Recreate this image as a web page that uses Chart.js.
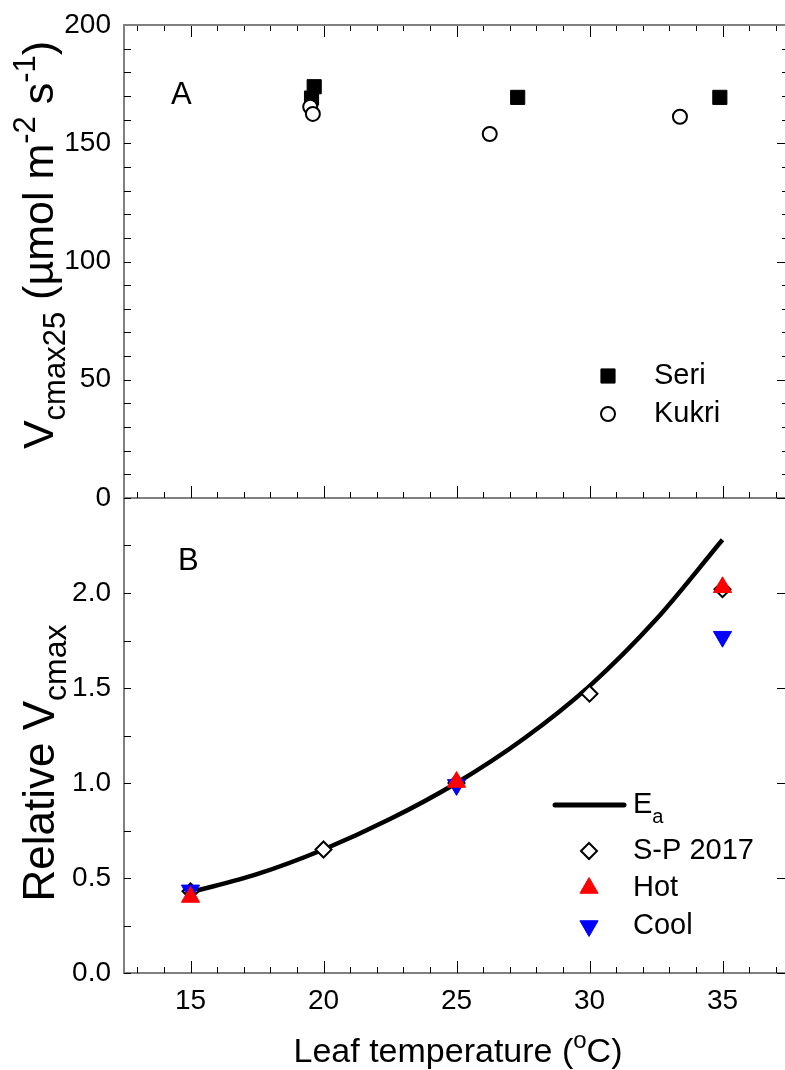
<!DOCTYPE html>
<html lang="en">
<head>
<meta charset="UTF-8">
<title>Vcmax and leaf temperature</title>
<script src="https://cdn.jsdelivr.net/npm/chart.js"></script>
<style>
  body { margin: 0; background: #fff; overflow: hidden; }
  #wrap { position: relative; width: 785px; height: 1070px; overflow: hidden; }
  canvas { position: absolute; left: 0; }
  #topChart { top: 0; }
  #bottomChart { top: 498px; }
</style>
</head>
<body>
<div id="wrap">
  <canvas id="topChart" width="789" height="520"></canvas>
  <canvas id="bottomChart" width="789" height="572"></canvas>
</div>
<script>
// panel A: Vcmax25 per cultivar
const seriTemp = [19.65, 19.55, 27.3, 34.9];
const seriV = [173.9, 169.1, 169.4, 169.4];
const kukriTemp = [19.5, 19.6, 26.25, 33.4];
const kukriV = [165.4, 162.4, 153.9, 161.2];

// panel B: relative Vcmax
const eaTemp = [15, 17.5, 20, 22.5, 25, 27.5, 30, 32.5, 35];
const eaRel = [0.425, 0.52, 0.65, 0.81, 1.0, 1.23, 1.51, 1.86, 2.28];
const spTemp = [15, 20, 25, 30, 35];
const spRel = [0.43, 0.65, 1.0, 1.47, 2.02];
const hotTemp = [15, 25, 35];
const hotRel = [0.40, 1.005, 2.03];
const coolTemp = [15, 25, 35];
const coolRel = [0.435, 0.99, 1.77];

const xTicks = [15, 20, 25, 30, 35];
const yTicksA = [0, 50, 100, 150, 200];
const yTicksB = [0, 0.5, 1.0, 1.5, 2.0];

const FONT = '"Liberation Sans", Arial, sans-serif';
const AXIS = '#808080';

function pts(xs, ys) { return xs.map((x, i) => ({x: x, y: ys[i]})); }

function richText(ctx, parts, x, y, size, rotate, subScale) {
  ctx.save();
  ctx.translate(x, y);
  if (rotate) ctx.rotate(-Math.PI / 2);
  ctx.fillStyle = '#000';
  ctx.textBaseline = 'alphabetic';
  const small = Math.round(size * (subScale || 0.7));
  let w = 0;
  parts.forEach(p => { ctx.font = (p[1] ? small : size) + 'px ' + FONT; w += ctx.measureText(p[0]).width; });
  let cx = -w / 2;
  parts.forEach(p => {
    ctx.font = (p[1] ? small : size) + 'px ' + FONT;
    const dy = p[1] === -1 ? size * 0.28 : p[1] === 1 ? -size * 0.42 : 0;
    ctx.fillText(p[0], cx, dy);
    cx += ctx.measureText(p[0]).width;
  });
  ctx.restore();
}

function marker(ctx, style, r, rot, fill, stroke, bw, x, y) {
  ctx.save();
  ctx.fillStyle = fill;
  ctx.strokeStyle = stroke;
  ctx.lineWidth = bw;
  Chart.helpers.drawPoint(ctx, {pointStyle: style, radius: r, rotation: rot, borderWidth: bw}, x, y);
  ctx.restore();
}

function label(ctx, txt, x, y, size) {
  ctx.save();
  ctx.font = size + 'px ' + FONT;
  ctx.fillStyle = '#000';
  ctx.textBaseline = 'middle';
  ctx.fillText(txt, x, y);
  ctx.restore();
}

// inward tick marks on all sides
function frameTicks(chart, o) {
  const {ctx, chartArea: a, scales: {x, y}} = chart;
  ctx.save();
  ctx.strokeStyle = '#000';
  ctx.lineWidth = 1;
  ctx.beginPath();
  for (let t = Math.ceil(x.min); t <= x.max; t++) {
    const px = Math.round(x.getPixelForValue(t)) + 0.5;
    const len = t % 5 === 0 ? 12 : 6;
    ctx.moveTo(px, a.bottom); ctx.lineTo(px, a.bottom - len);
    if (o.top) { ctx.moveTo(px, a.top); ctx.lineTo(px, a.top + len); }
  }
  const n = Math.round((y.max - y.min) / o.minor);
  for (let i = 0; i <= n; i++) {
    const v = y.min + i * o.minor;
    const py = Math.round(y.getPixelForValue(v)) + 0.5;
    const major = i % o.per === 0;
    ctx.moveTo(a.left, py); ctx.lineTo(a.left + 7, py);
    if (major || o.rightMinor) { ctx.moveTo(a.right, py); ctx.lineTo(a.right - (major ? 12 : 7), py); }
  }
  ctx.stroke();
  if (o.top) {
    ctx.strokeStyle = AXIS;
    ctx.lineWidth = 2;
    ctx.beginPath();
    ctx.moveTo(a.left, a.top); ctx.lineTo(a.right, a.top);
    ctx.stroke();
  }
  ctx.restore();
}

const topDecor = {
  id: 'topDecor',
  afterDraw(chart) {
    const ctx = chart.ctx;
    frameTicks(chart, {top: true, minor: 10, per: 5, rightMinor: true});
    richText(ctx, [['V', 0], ['cmax25', -1], [' (\u00b5mol m', 0], ['-2', 1], [' s', 0], ['-1', 1], [')', 0]], 53, 245, 43, true, 0.72);
    ctx.save();
    ctx.font = '31px ' + FONT;
    ctx.fillStyle = '#000';
    ctx.fillText('A', 171, 104);
    ctx.restore();
    marker(ctx, 'rect', 10, 0, '#000', '#000', 1, 608, 376);
    label(ctx, 'Seri', 654, 376, 29);
    marker(ctx, 'circle', 7, 0, '#fff', '#000', 2, 608, 414);
    label(ctx, 'Kukri', 654, 414, 29);
  }
};

const bottomDecor = {
  id: 'bottomDecor',
  afterDraw(chart) {
    const ctx = chart.ctx;
    const off = 498;
    frameTicks(chart, {top: false, minor: 0.25, per: 2, rightMinor: false});
    richText(ctx, [['Relative V', 0], ['cmax', -1]], 54, 763 - off, 44, true, 0.72);
    richText(ctx, [['Leaf temperature (', 0], ['o', 1], ['C)', 0]], 458, 1062 - off, 34, false);
    ctx.save();
    ctx.font = '31px ' + FONT;
    ctx.fillStyle = '#000';
    ctx.fillText('B', 178, 570 - off);
    ctx.strokeStyle = '#000';
    ctx.lineWidth = 5;
    ctx.lineCap = 'round';
    ctx.beginPath();
    ctx.moveTo(555, 805 - off); ctx.lineTo(624, 805 - off);
    ctx.stroke();
    ctx.restore();
    ctx.save();
    ctx.font = '29px ' + FONT;
    ctx.fillStyle = '#000';
    ctx.textBaseline = 'middle';
    ctx.fillText('E', 633, 805 - off);
    const ew = ctx.measureText('E').width;
    ctx.font = '20px ' + FONT;
    ctx.fillText('a', 633 + ew, 817 - off);
    ctx.restore();
    marker(ctx, 'rectRot', 8, 0, '#fff', '#000', 2, 589, 851 - off);
    label(ctx, 'S-P 2017', 633, 851 - off, 29);
    marker(ctx, 'triangle', 10.5, 0, '#ff0000', '#ff0000', 1, 589, 888 - off);
    label(ctx, 'Hot', 633, 888 - off, 29);
    marker(ctx, 'triangle', 10.5, 180, '#0000ff', '#0000ff', 1, 589, 926 - off);
    label(ctx, 'Cool', 633, 926 - off, 29);
  }
};

function xScale(labels, h) {
  return {
    type: 'linear', min: 12.5, max: 37.5,
    grid: {display: false, drawTicks: false},
    border: {color: AXIS, width: 2},
    afterBuildTicks: s => { s.ticks = xTicks.map(v => ({value: v})); },
    ticks: {display: labels, color: '#000', padding: 11, font: {family: FONT, size: 28}},
    afterFit: s => { s.height = h; s.paddingLeft = 0; s.paddingRight = 0; }
  };
}

function yScale(max, ticks, fmt) {
  return {
    min: 0, max: max,
    grid: {display: false, drawTicks: false},
    border: {color: AXIS, width: 2},
    afterBuildTicks: s => { s.ticks = ticks.map(v => ({value: v})); },
    ticks: {color: '#000', padding: 13, font: {family: FONT, size: 28}, callback: fmt},
    afterFit: s => { s.width = 124; s.paddingTop = 0; s.paddingBottom = 0; }
  };
}

const common = {
  responsive: false,
  animation: false,
  plugins: {legend: {display: false}, tooltip: {enabled: false}}
};

new Chart(document.getElementById('topChart'), {
  type: 'scatter',
  data: {
    datasets: [
      {label: 'Seri', data: pts(seriTemp, seriV), pointStyle: 'rect', pointRadius: 10,
       backgroundColor: '#000', borderColor: '#000', borderWidth: 1, order: 2},
      {label: 'Kukri', data: pts(kukriTemp, kukriV), pointStyle: 'circle', pointRadius: 7,
       backgroundColor: '#fff', borderColor: '#000', borderWidth: 2, order: 1}
    ]
  },
  options: Object.assign({}, common, {
    layout: {autoPadding: false, padding: {top: 25, left: 0, right: 0, bottom: 0}},
    scales: {x: xScale(false, 22), y: yScale(200, yTicksA, v => String(v))}
  }),
  plugins: [topDecor]
});

new Chart(document.getElementById('bottomChart'), {
  type: 'scatter',
  data: {
    datasets: [
      {label: 'Ea', data: pts(eaTemp, eaRel), showLine: true, pointRadius: 0, borderColor: '#000',
       borderWidth: 4.5, cubicInterpolationMode: 'monotone', fill: false, order: 4},
      {label: 'S-P 2017', data: pts(spTemp, spRel), pointStyle: 'rectRot', pointRadius: 8,
       backgroundColor: '#fff', borderColor: '#000', borderWidth: 2, order: 3},
      {label: 'Hot', data: pts(hotTemp, hotRel), pointStyle: 'triangle', pointRadius: 10.5,
       backgroundColor: '#ff0000', borderColor: '#ff0000', borderWidth: 1, order: 1},
      {label: 'Cool', data: pts(coolTemp, coolRel), pointStyle: 'triangle', rotation: 180, pointRadius: 10.5,
       backgroundColor: '#0000ff', borderColor: '#0000ff', borderWidth: 1, order: 2}
    ]
  },
  options: Object.assign({}, common, {
    layout: {autoPadding: false, padding: {top: 0, left: 0, right: 0, bottom: 0}},
    scales: {x: xScale(true, 97), y: yScale(2.5, yTicksB, v => v.toFixed(1))}
  }),
  plugins: [bottomDecor]
});
</script>
</body>
</html>
